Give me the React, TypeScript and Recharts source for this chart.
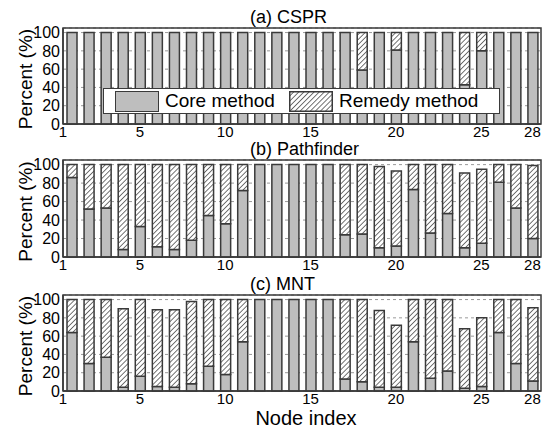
import React from 'react';
import { BarChart, Bar, XAxis, YAxis, CartesianGrid, Legend } from 'recharts';

const nodes = [1, 2, 3, 4, 5, 6, 7, 8, 9, 10, 11, 12, 13, 14, 15, 16, 17, 18, 19, 20, 21, 22, 23, 24, 25, 26, 27, 28];
const xTicks = [1, 5, 10, 15, 20, 25, 28];
const yTicks = [0, 20, 40, 60, 80, 100];

// (a) CSPR
const csprCore = [100, 100, 100, 100, 100, 100, 100, 100, 100, 100, 100, 100, 100, 100, 100, 100, 100, 59, 100, 81, 100, 100, 100, 43, 80, 100, 100, 100];
const csprRemedy = [0, 0, 0, 0, 0, 0, 0, 0, 0, 0, 0, 0, 0, 0, 0, 0, 0, 41, 0, 19, 0, 0, 0, 57, 20, 0, 0, 0];

// (b) Pathfinder
const pathCore = [86, 52, 53, 8, 33, 11, 8, 18, 45, 36, 72, 100, 100, 100, 100, 100, 24, 25, 10, 12, 73, 26, 47, 10, 15, 81, 53, 20];
const pathRemedy = [14, 48, 47, 92, 67, 89, 92, 82, 55, 64, 28, 0, 0, 0, 0, 0, 76, 75, 88, 81, 27, 74, 53, 81, 80, 19, 47, 79];

// (c) MNT
const mntCore = [64, 30, 37, 4, 16, 5, 4, 8, 27, 18, 54, 100, 100, 100, 100, 100, 13, 10, 4, 4, 54, 14, 22, 3, 5, 64, 30, 11];
const mntRemedy = [36, 70, 63, 86, 84, 84, 85, 90, 73, 82, 46, 0, 0, 0, 0, 0, 87, 90, 84, 68, 46, 86, 78, 65, 75, 36, 70, 80];

const FONT = '"Liberation Sans", Arial, Helvetica, sans-serif';
const EDGE = '#3a3a3a';
const CORE_FILL = '#bebebe';

const PLOT_LEFT = 63;
const PLOT_RIGHT = 541;

const buildRows = (core: number[], remedy: number[]) =>
  nodes.map((n, i) => ({ node: n, core: core[i], remedy: remedy[i] }));

const NodeTick = (props: any) => {
  const { x, y, payload } = props;
  // the "1" label sits on the left edge of the frame
  const shift = payload.value === 1 ? -8.5 : 0;
  return (
    <text x={x + shift} y={y + 13} textAnchor="middle" fontSize={15} fill="#000" fontFamily={FONT}>
      {payload.value}
    </text>
  );
};

const HatchPattern = ({ id }: { id: string }) => (
  <pattern id={id} patternUnits="userSpaceOnUse" width={3.6} height={3.6} patternTransform="rotate(45)">
    <rect width={3.6} height={3.6} fill="#fff" />
    <line x1={0} y1={0} x2={0} y2={3.6} stroke={EDGE} strokeWidth={1.4} />
  </pattern>
);

const HatchSwatch = ({ id }: { id: string }) => (
  <svg width={44} height={21} style={{ position: 'absolute', left: 185, top: 2 }}>
    <defs>
      <HatchPattern id={id} />
    </defs>
    <rect x={0.75} y={0.75} width={42.5} height={19.5} fill={`url(#${id})`} stroke={EDGE} strokeWidth={1.5} />
  </svg>
);

const LegendBox = () => (
  <div
    style={{
      position: 'relative',
      width: 397,
      height: 26,
      boxSizing: 'border-box',
      border: `1px solid ${EDGE}`,
      background: '#fff',
      fontFamily: FONT,
      fontSize: 19,
      lineHeight: '24px',
      color: '#000',
    }}
  >
    <div
      style={{
        position: 'absolute',
        left: 11,
        top: 2,
        width: 44,
        height: 21,
        boxSizing: 'border-box',
        background: CORE_FILL,
        border: `1.5px solid ${EDGE}`,
      }}
    />
    <span style={{ position: 'absolute', left: 61, top: 0, whiteSpace: 'nowrap' }}>Core method</span>
    <HatchSwatch id="legend-hatch" />
    <span style={{ position: 'absolute', left: 235, top: 0, whiteSpace: 'nowrap' }}>Remedy method</span>
  </div>
);

interface PanelProps {
  id: string;
  title: string;
  core: number[];
  remedy: number[];
  top: number;
  height: number;
  marginBottom: number;
  legend?: boolean;
  xLabel?: boolean;
}

const MARGIN_TOP = 28;
const X_AXIS_H = 17;

const Panel = ({ id, title, core, remedy, top, height, marginBottom, legend, xLabel }: PanelProps) => {
  const data = buildRows(core, remedy);
  const plotBottom = height - marginBottom - X_AXIS_H;
  const plotMid = (MARGIN_TOP + plotBottom) / 2;
  return (
    <div style={{ position: 'absolute', left: 0, top, width: 550, height }}>
      <BarChart
        width={550}
        height={height}
        data={data}
        margin={{ top: MARGIN_TOP, right: 550 - PLOT_RIGHT, bottom: marginBottom, left: 0 }}
        barCategoryGap={0}
        style={{ fontFamily: FONT, overflow: 'visible' }}
      >
        <defs>
          <HatchPattern id={`hatch-${id}`} />
        </defs>
        <CartesianGrid vertical={false} stroke="#999" strokeDasharray="3 3" />
        <XAxis
          dataKey="node"
          type="category"
          ticks={xTicks}
          interval={0}
          height={X_AXIS_H}
          tickLine={false}
          tickSize={0}
          tickMargin={0}
          tick={<NodeTick />}
          axisLine={{ stroke: EDGE, strokeWidth: 1.5 }}
        />
        <YAxis
          domain={[0, 105]}
          ticks={yTicks}
          interval={0}
          width={PLOT_LEFT}
          tickLine={false}
          tickSize={0}
          tickMargin={3}
          tick={{ fontSize: 16, fill: '#000', fontFamily: FONT }}
          axisLine={{ stroke: EDGE, strokeWidth: 1.5 }}
        />
        <Bar dataKey="core" stackId="s" barSize={10} fill={CORE_FILL} stroke={EDGE} strokeWidth={1.5} isAnimationActive={false} />
        <Bar dataKey="remedy" stackId="s" barSize={10} fill={`url(#hatch-${id})`} stroke={EDGE} strokeWidth={1.5} isAnimationActive={false} />
        <rect
          x={PLOT_LEFT}
          y={MARGIN_TOP}
          width={PLOT_RIGHT - PLOT_LEFT}
          height={plotBottom - MARGIN_TOP}
          fill="none"
          stroke={EDGE}
          strokeWidth={1.5}
        />
        {legend && (
          <Legend
            layout="horizontal"
            verticalAlign="middle"
            align="center"
            wrapperStyle={{ left: 103, top: 88, width: 397, height: 26 }}
            content={() => <LegendBox />}
          />
        )}
        <text x={250} y={MARGIN_TOP - 5} fontSize={18} fill="#000" fontFamily={FONT}>
          {title}
        </text>
        <text
          x={32}
          y={plotMid + 3}
          transform={`rotate(-90 32 ${plotMid + 3})`}
          textAnchor="middle"
          fontSize={19}
          fill="#000"
          fontFamily={FONT}
        >
          Percent (%)
        </text>
        {xLabel && (
          <text x={306} y={plotBottom + 34} textAnchor="middle" fontSize={20} fill="#000" fontFamily={FONT}>
            Node index
          </text>
        )}
      </BarChart>
    </div>
  );
};

export default function App() {
  return (
    <div style={{ position: 'absolute', left: 0, top: 0, width: 550, height: 433, background: '#fff', overflow: 'hidden' }}>
      <Panel id="a" title="(a) CSPR" core={csprCore} remedy={csprRemedy} top={0} height={150} marginBottom={9} legend />
      <Panel id="b" title="(b) Pathfinder" core={pathCore} remedy={pathRemedy} top={132} height={150} marginBottom={8} />
      <Panel id="c" title="(c) MNT" core={mntCore} remedy={mntRemedy} top={267} height={166} marginBottom={25} xLabel />
    </div>
  );
}
